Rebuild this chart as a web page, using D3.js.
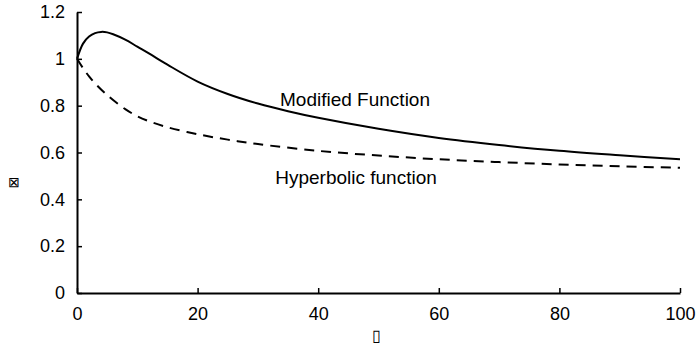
<!DOCTYPE html>
<html>
<head>
<meta charset="utf-8">
<script src="https://cdn.jsdelivr.net/npm/d3@7"></script>
<style>
  body { margin: 0; background: #fff; }
  text { font-family: "Liberation Sans", Arial, sans-serif; fill: #000; }
</style>
</head>
<body>
<div class="chart"></div>
<script>
// data
const modX = [0, 1, 2, 3, 4, 5, 6, 8, 10, 12, 15, 20, 25, 30, 35, 40, 50, 60, 70, 80, 90, 100];
const modY = [1.0, 1.065, 1.095, 1.11, 1.115, 1.113, 1.105, 1.082, 1.052, 1.022, 0.975, 0.903, 0.85, 0.809, 0.776, 0.748, 0.701, 0.662, 0.632, 0.607, 0.588, 0.571];
const hypX = [0, 1, 2, 3, 5, 8, 10, 12, 15, 20, 25, 30, 40, 50, 60, 70, 80, 90, 100];
const hypY = [1.0, 0.96, 0.925, 0.895, 0.845, 0.785, 0.755, 0.733, 0.708, 0.678, 0.655, 0.636, 0.607, 0.587, 0.571, 0.559, 0.549, 0.541, 0.535];
const xTicks = [0, 20, 40, 60, 80, 100];
const yTicks = [0, 0.2, 0.4, 0.6, 0.8, 1, 1.2];

const w = 696, h = 353;
const m = {left: 77, top: 12, right: 16, bottom: 60};

const x = d3.scaleLinear().domain([0, 100]).range([m.left, w - m.right]);
const y = d3.scaleLinear().domain([0, 1.2]).range([h - m.bottom, m.top]);

const svg = d3.select(".chart").append("svg")
  .attr("width", w).attr("height", h);

const xAxis = svg.append("g")
  .attr("transform", "translate(0," + (h - m.bottom) + ")")
  .call(d3.axisBottom(x).tickValues(xTicks).tickFormat(d3.format("d"))
    .tickSizeInner(-5).tickSizeOuter(0).tickPadding(14));

const yAxis = svg.append("g")
  .attr("transform", "translate(" + m.left + ",0)")
  .call(d3.axisLeft(y).tickValues(yTicks).tickFormat(d => String(d))
    .tickSizeInner(-5).tickSizeOuter(0).tickPadding(12));

[xAxis, yAxis].forEach(g => {
  g.select(".domain").attr("stroke", "#000").attr("stroke-width", 2);
  g.selectAll(".tick line").attr("stroke", "#000").attr("stroke-width", 1.5);
  g.selectAll(".tick text").attr("font-size", 18)
    .attr("font-family", "Liberation Sans, Arial, sans-serif");
});

const line = d3.line().x(d => x(d[0])).y(d => y(d[1])).curve(d3.curveCatmullRom.alpha(0.5));

svg.append("path")
  .datum(d3.zip(modX, modY))
  .attr("fill", "none").attr("stroke", "#000").attr("stroke-width", 2)
  .attr("d", line);

svg.append("path")
  .datum(d3.zip(hypX, hypY))
  .attr("fill", "none").attr("stroke", "#000").attr("stroke-width", 2)
  .attr("stroke-dasharray", "10,7")
  .attr("d", line);

svg.append("text").attr("x", 355).attr("y", 106)
  .attr("text-anchor", "middle").attr("font-size", 19).text("Modified Function");
svg.append("text").attr("x", 356).attr("y", 184)
  .attr("text-anchor", "middle").attr("font-size", 19).text("Hyperbolic function");

// axis titles (shown as symbol boxes in the original)
svg.append("text").attr("x", 14).attr("y", 187)
  .attr("text-anchor", "middle").attr("font-size", 14).text("⊠");
svg.append("text").attr("x", 376).attr("y", 341)
  .attr("text-anchor", "middle").attr("font-size", 16).text("▯");
</script>
</body>
</html>
